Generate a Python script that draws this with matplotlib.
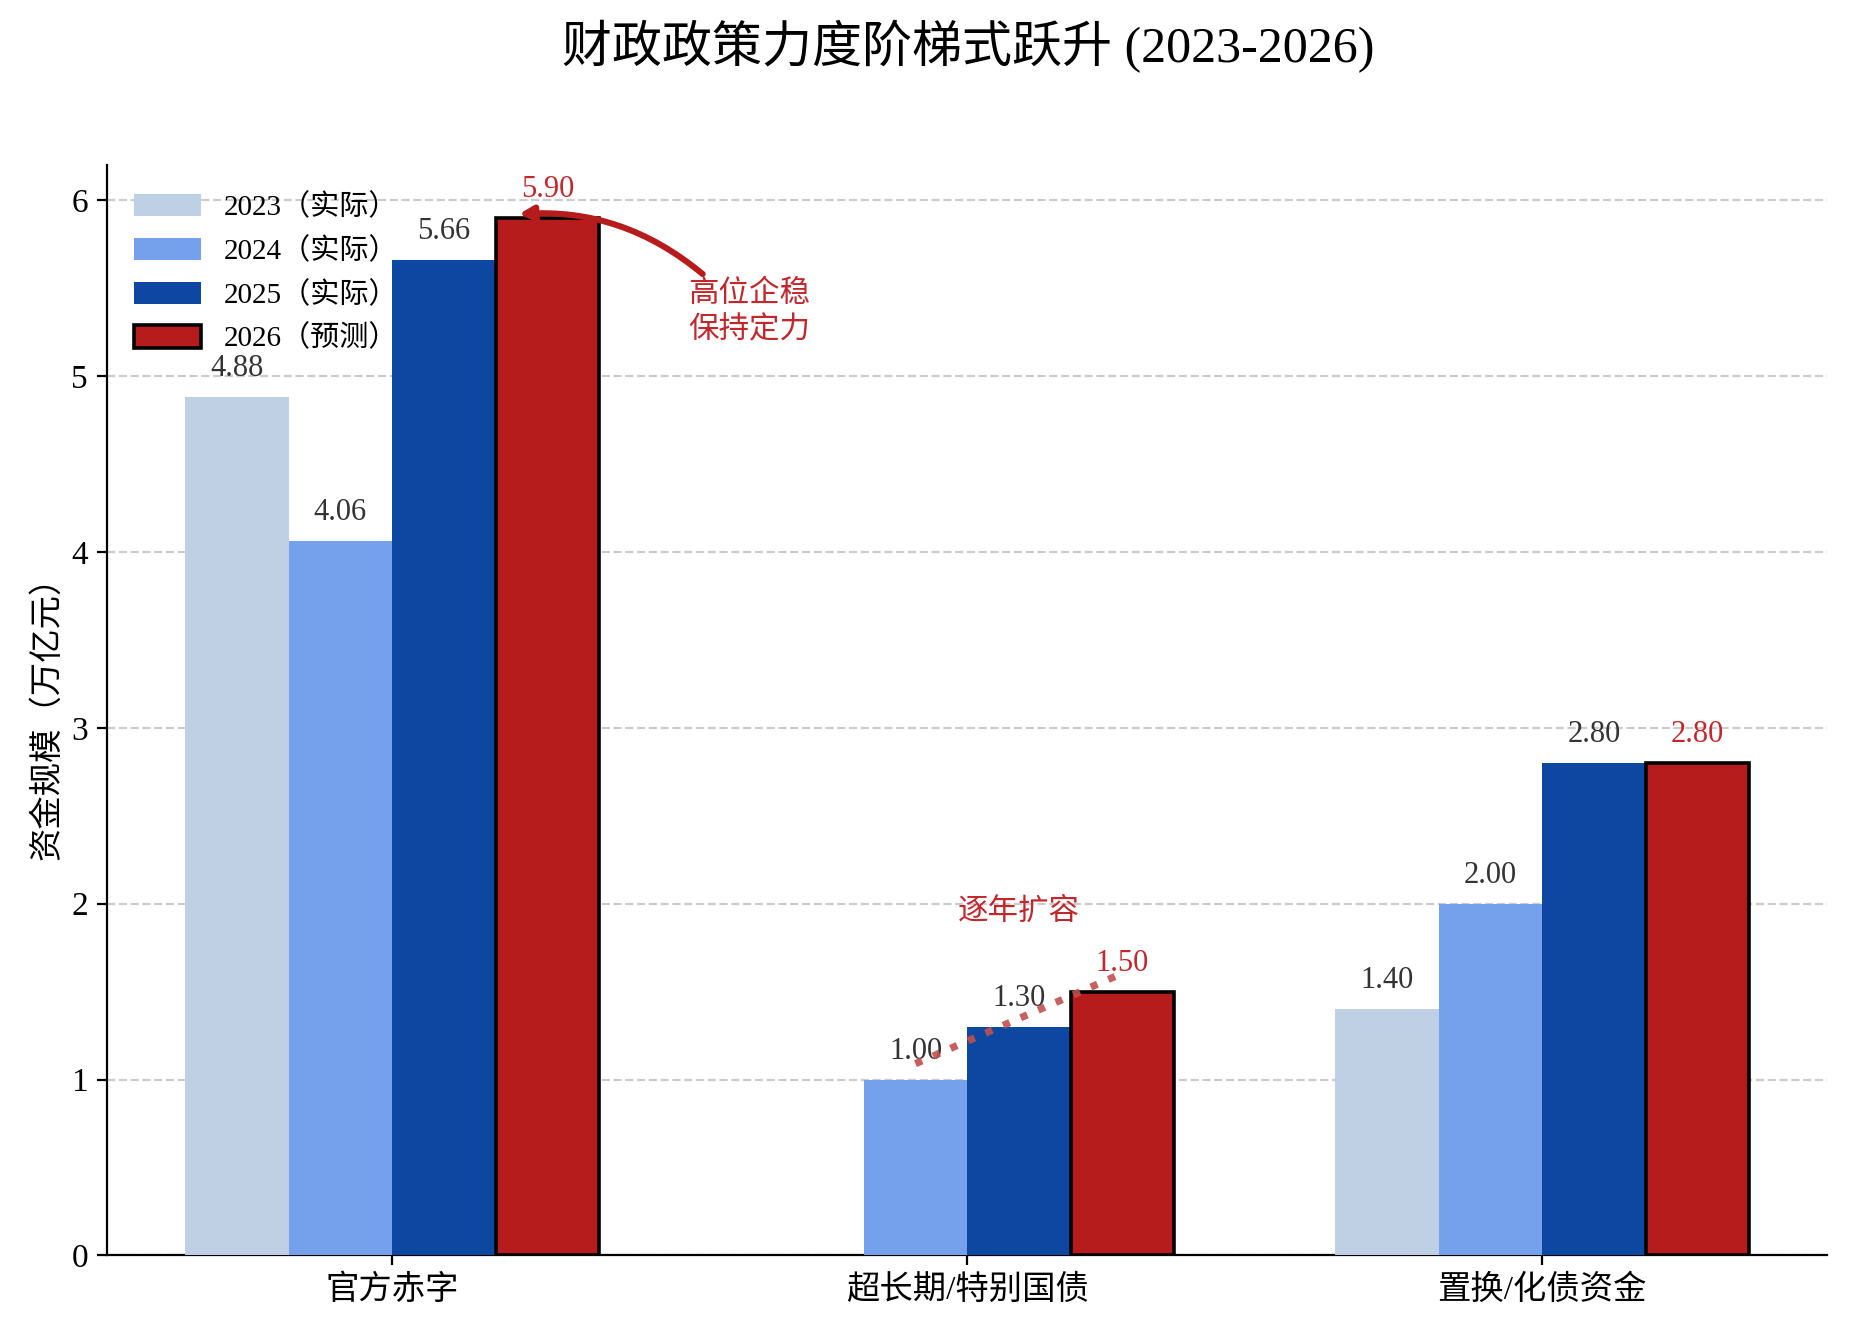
import numpy as np
import matplotlib.pyplot as plt

# categories and series
categories = ['官方赤字', '超长期/特别国债', '置换/化债资金']
years = ['2023（实际）', '2024（实际）', '2025（实际）', '2026（预测）']
v2023 = [4.88, np.nan, 1.40]
v2024 = [4.06, 1.00, 2.00]
v2025 = [5.66, 1.30, 2.80]
v2026 = [5.90, 1.50, 2.80]

colors = ['#BFCFE4', '#75A0EB', '#0D47A1', '#B71C1C']
red_txt = '#C0282D'

plt.rcParams['font.family'] = ['Liberation Serif', 'Noto Sans CJK SC']
plt.rcParams['axes.unicode_minus'] = False

fig = plt.figure(figsize=(9.26, 6.675), dpi=200)
ax = fig.add_axes([0.058, 0.0596, 0.9285, 0.8168])

x = np.arange(len(categories))
width = 0.18
offsets = [-1.5 * width, -0.5 * width, 0.5 * width, 1.5 * width]
series = [v2023, v2024, v2025, v2026]

for i, vals in enumerate(series):
    if i == 3:
        bars = ax.bar(x + offsets[i], vals, width, color=colors[i], label=years[i],
                      edgecolor='black', linewidth=1.3, zorder=3)
    else:
        bars = ax.bar(x + offsets[i], vals, width, color=colors[i], label=years[i],
                      linewidth=0, zorder=3)
    for xi, v in zip(x + offsets[i], vals):
        if np.isnan(v):
            continue
        ax.annotate(f'{v:.2f}', (xi, v), xytext=(0, 5), textcoords='offset points',
                    ha='center', va='bottom', fontsize=11,
                    color=red_txt if i == 3 else '#333333')

# annotation for deficit
ax.annotate('', xy=(x[0] + offsets[3] - 0.05, v2026[0] + 0.02),
            xytext=(x[0] + 0.54, 5.58),
            arrowprops=dict(arrowstyle='-|>', color='#B71C1C', lw=2.2,
                            mutation_scale=10, shrinkA=0, shrinkB=0,
                            connectionstyle='arc3,rad=0.2'), zorder=5)
ax.text(x[0] + 0.515, 5.36, '高位企稳\n保持定力', color=red_txt, fontsize=11,
        ha='left', va='center', linespacing=1.35)

# dotted trend for special bonds
ax.plot([x[1] + offsets[1], x[1] + offsets[3] - 0.01],
        [v2024[1] + 0.09, v2026[1] + 0.09],
        linestyle=':', color='#C0504D', lw=2.6, alpha=0.9, zorder=4)
ax.text(x[1] + offsets[2], 1.95, '逐年扩容', color=red_txt, fontsize=11,
        ha='center', va='center')

ax.set_xlim(-0.495, 2.495)
ax.set_ylim(0, 6.2)
ax.set_yticks(range(0, 7))
ax.set_xticks(x)
ax.set_xticklabels(categories, fontsize=12)
ax.tick_params(axis='y', labelsize=12)
ax.set_ylabel('资金规模（万亿元）', fontsize=12, labelpad=3)

ax.yaxis.grid(True, linestyle='--', color='#CCCCCC', linewidth=0.8)
ax.set_axisbelow(True)
for s in ['top', 'right']:
    ax.spines[s].set_visible(False)

ax.legend(loc='upper left', bbox_to_anchor=(0.0, 0.998), frameon=False,
          fontsize=10.5, handlelength=2.3, handleheight=0.8, labelspacing=0.55)

fig.text(0.523, 0.965, '财政政策力度阶梯式跃升 (2023-2026)', ha='center', va='center',
         fontsize=18)

plt.savefig('out.png', dpi=200)
